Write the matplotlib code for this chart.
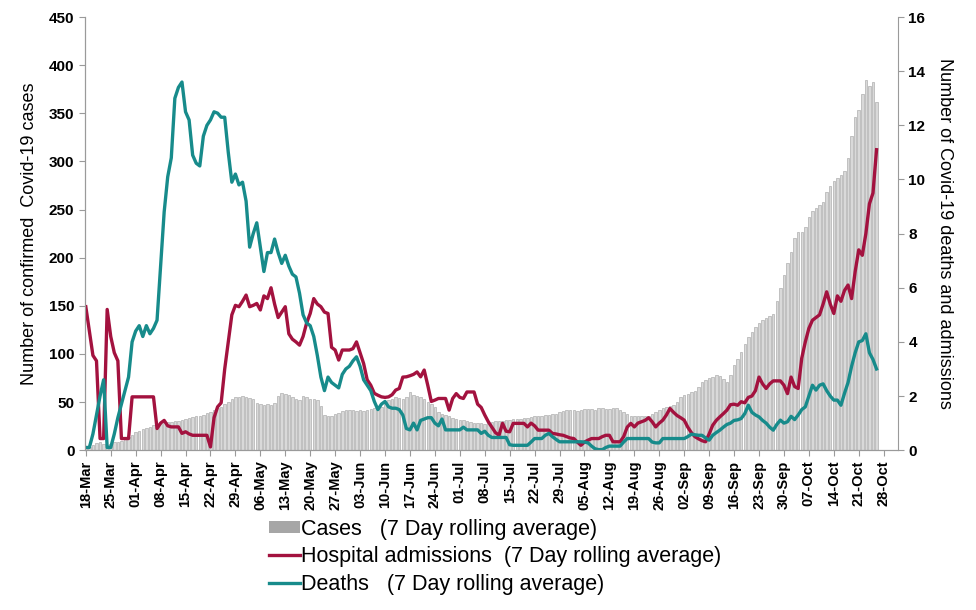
import matplotlib
matplotlib.use('Agg')
import matplotlib.pyplot as plt
import matplotlib.dates as mdates
from matplotlib import font_manager
from matplotlib.patches import Patch
from matplotlib.lines import Line2D
import pandas as pd

# daily series, 18-Mar-2020 onwards (7 day rolling averages)
start_date = '2020-03-18'

cases = [
    2, 3, 5, 7, 8, 6, 5,
    6, 8, 9, 10, 12, 14, 16,
    19, 20, 22, 23, 24, 26, 26,
    27, 28, 29, 29, 30, 30, 31,
    32, 33, 34, 35, 36, 37, 39,
    40, 42, 44, 45, 48, 50, 53,
    55, 55, 56, 55, 54, 53, 49,
    48, 47, 48, 47, 49, 56, 59,
    58, 57, 55, 53, 52, 56, 55,
    53, 53, 52, 46, 37, 35, 36,
    38, 39, 41, 42, 42, 42, 41,
    42, 41, 42, 43, 44, 44, 45,
    50, 52, 53, 55, 54, 53, 55,
    60, 57, 56, 55, 53, 50, 48,
    45, 40, 38, 37, 36, 33, 32,
    31, 31, 30, 29, 28, 28, 28,
    27, 28, 29, 30, 30, 30, 31,
    31, 32, 32, 32, 33, 33, 34,
    35, 35, 36, 37, 37, 38, 38,
    40, 41, 42, 42, 42, 41, 42,
    43, 43, 43, 42, 44, 44, 43,
    43, 44, 44, 42, 40, 38, 36,
    35, 35, 36, 35, 36, 38, 40,
    42, 44, 45, 46, 47, 50, 55,
    57, 58, 60, 62, 66, 71, 73,
    75, 76, 78, 77, 74, 71, 78,
    88, 95, 102, 110, 118, 123, 128,
    132, 135, 137, 139, 141, 155, 168,
    182, 194, 206, 220, 227, 227, 232,
    242, 248, 252, 255, 258, 268, 274,
    280, 283, 286, 290, 304, 326, 346,
    353, 370, 385, 378, 383, 362,
]

admissions = [
    5.3, 4.4, 3.5, 3.3, 0.43, 0.43, 5.2,
    4.2, 3.6, 3.3, 0.43, 0.43, 0.43, 1.97,
    1.97, 1.97, 1.97, 1.97, 1.97, 1.97, 0.8,
    1.0, 1.1, 0.9, 0.86, 0.86, 0.86, 0.62,
    0.68, 0.6, 0.55, 0.55, 0.55, 0.55, 0.55,
    0.12, 1.2, 1.6, 1.75, 3.0, 4.0, 5.0,
    5.35, 5.3, 5.5, 5.73, 5.3, 5.35, 5.42,
    5.18, 5.7, 5.6, 6.0, 5.4, 4.9, 5.1,
    5.3, 4.3, 4.1, 4.0, 3.88, 4.2, 4.7,
    5.05, 5.6, 5.4, 5.3, 5.1, 5.05, 3.8,
    3.7, 3.33, 3.7, 3.7, 3.7, 3.75, 4.0,
    3.6, 3.2, 2.6, 2.4, 2.1, 2.03, 1.97,
    1.95, 1.97, 2.05, 2.22, 2.28, 2.7, 2.71,
    2.75, 2.8, 2.89, 2.71, 2.96, 2.4, 1.8,
    1.85, 1.91, 1.91, 1.91, 1.48, 1.91, 2.09,
    1.95, 1.91, 2.15, 2.15, 2.15, 1.7, 1.58,
    1.3, 1.05, 0.85, 0.65, 0.55, 0.99, 0.7,
    0.68, 0.99, 0.99, 0.99, 0.99, 0.86, 1.0,
    0.9, 0.74, 0.74, 0.74, 0.74, 0.62, 0.6,
    0.57, 0.55, 0.5, 0.45, 0.43, 0.3, 0.18,
    0.3, 0.37, 0.43, 0.43, 0.43, 0.5, 0.55,
    0.55, 0.31, 0.31, 0.31, 0.5, 0.85, 0.99,
    0.86, 1.0, 1.05, 1.1, 1.2, 1.05, 0.86,
    1.0, 1.11, 1.3, 1.54, 1.4, 1.28, 1.2,
    1.11, 0.85, 0.65, 0.5, 0.42, 0.35, 0.31,
    0.6, 0.92, 1.1, 1.23, 1.35, 1.48, 1.68,
    1.7, 1.66, 1.79, 1.75, 1.95, 2.0, 2.2,
    2.7, 2.45, 2.28, 2.45, 2.56, 2.56, 2.56,
    2.4, 2.09, 2.7, 2.35, 2.28, 3.4, 4.0,
    4.5, 4.8, 4.9, 5.0, 5.4, 5.85, 5.4,
    5.05, 5.7, 5.5, 5.9, 6.1, 5.6, 6.6,
    7.4, 7.2, 8.0, 9.1, 9.5, 11.1,
]

deaths = [
    0.1, 0.1, 0.6, 1.3, 2.0, 2.6, 0.1,
    0.1, 0.6, 1.2, 1.7, 2.2, 2.7, 4.0,
    4.4, 4.6, 4.2, 4.6, 4.3, 4.5, 4.8,
    6.8, 8.8, 10.1, 10.8, 13.0, 13.4, 13.6,
    12.5, 12.2, 10.9, 10.6, 10.5, 11.6, 12.0,
    12.2, 12.5, 12.45, 12.3, 12.3, 11.0, 9.9,
    10.2, 9.8, 9.9, 9.2, 7.5, 8.0, 8.4,
    7.5, 6.6, 7.3, 7.3, 7.8, 7.3, 6.9,
    7.2, 6.8, 6.5, 6.4, 5.8, 5.0, 4.7,
    4.6, 4.2, 3.5, 2.7, 2.2, 2.7, 2.5,
    2.4, 2.3, 2.8, 3.0, 3.1, 3.3, 3.45,
    3.1, 2.6, 2.4, 2.2, 1.8, 1.5, 1.7,
    1.8, 1.6, 1.55, 1.55, 1.5, 1.3, 0.8,
    0.75, 1.0, 0.75, 1.1, 1.15, 1.2, 1.2,
    1.0, 0.9, 1.15, 0.75, 0.75, 0.75, 0.75,
    0.75, 0.85, 0.75, 0.75, 0.75, 0.75, 0.62,
    0.7, 0.55, 0.47, 0.47, 0.47, 0.47, 0.47,
    0.2, 0.18, 0.18, 0.18, 0.18, 0.18, 0.3,
    0.43, 0.43, 0.43, 0.55, 0.62, 0.5, 0.4,
    0.31, 0.31, 0.31, 0.31, 0.31, 0.31, 0.31,
    0.3, 0.27, 0.15, 0.05, 0.02, 0.02, 0.1,
    0.15, 0.15, 0.15, 0.15, 0.3, 0.43, 0.43,
    0.43, 0.43, 0.43, 0.43, 0.43, 0.3, 0.27,
    0.27, 0.43, 0.43, 0.43, 0.43, 0.43, 0.43,
    0.43, 0.5, 0.59, 0.57, 0.55, 0.55, 0.45,
    0.37, 0.55, 0.65, 0.74, 0.85, 0.95, 1.0,
    1.1, 1.12, 1.17, 1.35, 1.66, 1.4, 1.3,
    1.23, 1.1, 1.0, 0.85, 0.74, 0.95, 1.11,
    1.0, 1.05, 1.25, 1.13, 1.3, 1.5, 1.6,
    2.0, 2.4, 2.22, 2.4, 2.45, 2.2, 2.0,
    1.85, 1.85, 1.66, 2.1, 2.5, 3.1, 3.6,
    4.0, 4.05, 4.3, 3.6, 3.35, 3.0,
]

dates = pd.date_range(start_date, periods=len(cases), freq='D')
tick_dates = pd.date_range(start_date, '2020-10-28', freq='7D')

RED = '#a3123f'
TEAL = '#178b8b'

names = {f.name for f in font_manager.fontManager.ttflist}
tick_font = 'Liberation Sans Narrow' if 'Liberation Sans Narrow' in names else 'Liberation Sans'
plt.rcParams['font.family'] = ['Liberation Sans', 'DejaVu Sans']

fig = plt.figure(figsize=(9.76, 6.1), dpi=100)
fig.patch.set_facecolor('white')
ax = fig.add_axes([0.087, 0.262, 0.833, 0.71])
ax2 = ax.twinx()

ax.bar(dates, cases, width=0.7, color='#d9d9d9', edgecolor='#a0a0a0', linewidth=0.4)
ax2.plot(dates, admissions, color=RED, linewidth=2.4)
ax2.plot(dates, deaths, color=TEAL, linewidth=2.4)

ax.set_xlim(pd.Timestamp('2020-03-17 18:00'), pd.Timestamp('2020-11-01'))
ax.set_ylim(0, 450)
ax2.set_ylim(0, 16)
ax.set_yticks(range(0, 451, 50))
ax2.set_yticks(range(0, 17, 2))
ax.set_xticks(tick_dates)
ax.xaxis.set_major_formatter(mdates.DateFormatter('%d-%b'))

for a in (ax, ax2):
    a.spines['top'].set_visible(False)
    for s in ('left', 'right', 'bottom'):
        a.spines[s].set_color('#9a9a9a')
    a.tick_params(colors='#9a9a9a', length=4, width=0.8)
ax.spines['right'].set_visible(False)

for lab in ax.get_xticklabels():
    lab.set_rotation(90)
    lab.set_fontsize(10.5)
    lab.set_fontweight('bold')
    lab.set_family(tick_font)
    lab.set_color('black')
for lab in ax.get_yticklabels() + ax2.get_yticklabels():
    lab.set_fontsize(11)
    lab.set_fontweight('bold')
    lab.set_family(tick_font)
    lab.set_color('black')

ax.set_ylabel('Number of confirmed  Covid-19 cases', fontsize=13, labelpad=8)
ax2.set_ylabel('Number of Covid-19 deaths and admissions', fontsize=13,
               rotation=-90, labelpad=20)

handles = [
    Patch(facecolor='#a6a6a6', edgecolor='none'),
    Line2D([], [], color=RED, linewidth=2.4),
    Line2D([], [], color=TEAL, linewidth=2.4),
]
labels = [
    'Cases   (7 Day rolling average)',
    'Hospital admissions  (7 Day rolling average)',
    'Deaths   (7 Day rolling average)',
]
fig.legend(handles, labels, loc='upper left', bbox_to_anchor=(0.265, 0.167),
           frameon=False, fontsize=15.5, handlelength=1.4, handleheight=0.5,
           handletextpad=0.05, labelspacing=0.3, borderpad=0)

fig.savefig('out.png', dpi=100, facecolor='white')
plt.close(fig)
